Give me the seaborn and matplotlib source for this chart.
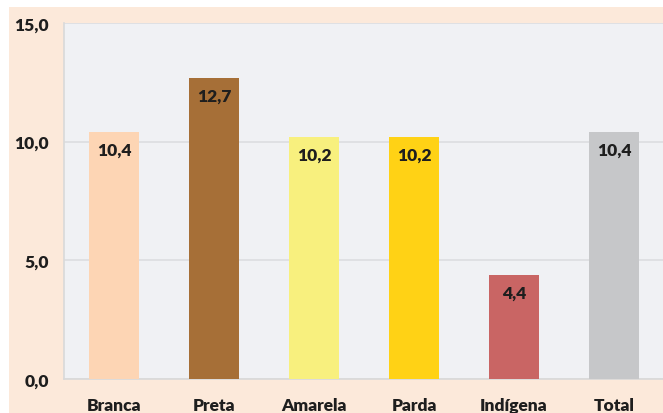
import matplotlib
matplotlib.use("Agg")
import matplotlib.pyplot as plt
from matplotlib.patches import Rectangle
import seaborn as sns
import pandas as pd

# dados
categorias = ["Branca", "Preta", "Amarela", "Parda", "Indígena", "Total"]
valores = [10.4, 12.7, 10.2, 10.2, 4.4, 10.4]
cores = ["#FDD5B4", "#A66F37", "#F8F07E", "#FFD215", "#C96564", "#C6C7C9"]
yticks = [0, 5, 10, 15]

df = pd.DataFrame({"cat": categorias, "val": valores})

sns.set_style("white")
plt.rcParams["font.family"] = ["Lato", "DejaVu Sans"]

W, H = 663, 414
fig = plt.figure(figsize=(W / 100, H / 100), dpi=100, facecolor="white")
# fundo pêssego do quadro
fundo = Rectangle((9 / W, 0), 1 - 9 / W, 1 - 8 / H, transform=fig.transFigure,
                  facecolor="#FCE9DA", edgecolor="none", zorder=-10)
fig.add_artist(fundo)

ax = fig.add_axes([64 / W, 34 / H, 600 / W, 356 / H])
ax.set_facecolor("#F0F1F4")

sns.barplot(data=df, x="cat", y="val", hue="cat", palette=cores, legend=False,
            width=0.5, saturation=1, linewidth=0, ax=ax, zorder=3)

# rótulos dentro das barras
for barra, v in zip(ax.patches, valores):
    x = barra.get_x() + barra.get_width() / 2
    ax.annotate(f"{v:.1f}".replace(".", ","), (x, v), xytext=(0, -7), textcoords="offset points",
                ha="center", va="top", fontsize=12.5, fontweight="heavy", color="#1E1E1E", zorder=4)

ax.set_ylim(0, 15)
ax.set_xlim(-0.5, 5.5)
ax.set_yticks(yticks)
ax.set_yticklabels([f"{t:.1f}".replace(".", ",") for t in yticks], fontsize=12.5,
                   fontweight="heavy", color="#1E1E1E")
ax.yaxis.grid(True, color="#DCDDE0", linewidth=1.2, zorder=0)
ax.set_axisbelow(True)

ax.set_xticks(range(len(categorias)))
ax.set_xticklabels(categorias, fontsize=12.5, fontweight="heavy", color="#1E1E1E")
ax.set_xticks([i - 0.5 for i in range(len(categorias) + 1)], minor=True)
ax.tick_params(axis="x", which="major", length=0, pad=13)
ax.tick_params(axis="x", which="minor", length=5, color="#D9D9D9", width=1.2)
ax.tick_params(axis="y", length=5, color="#D9D9D9", width=1.2, pad=6)
ax.set_xlabel("")
ax.set_ylabel("")

for s in ["top", "right"]:
    ax.spines[s].set_visible(False)
for s in ["left", "bottom"]:
    ax.spines[s].set_color("#D9D9D9")
    ax.spines[s].set_linewidth(1.2)

fig.savefig("out.png", dpi=100, facecolor=fig.get_facecolor())
